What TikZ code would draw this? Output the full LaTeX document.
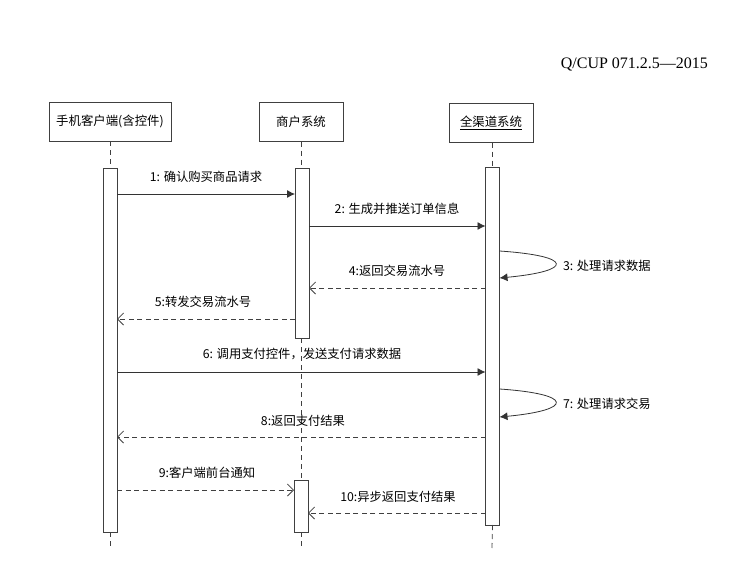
\documentclass[tikz,border=0pt]{standalone}
\usepackage{fontspec}
\setmainfont{Liberation Serif}
\newfontfamily\cjk{Noto Sans CJK SC}
\usetikzlibrary{arrows.meta}
\begin{document}
\begin{tikzpicture}[x=1pt,y=-1pt,
  every node/.style={inner sep=0pt,outer sep=0pt},
  actor/.style={draw=black!75,line width=0.8pt,minimum height=39pt,font=\cjk\fontsize{12.4}{14}\selectfont},
  bar/.style={draw=black!75,line width=0.8pt,fill=white,minimum width=14pt},
  life/.style={draw=black!75,line width=0.8pt,dash pattern=on 5pt off 4pt},
  call/.style={draw=black!80,line width=0.8pt,-{Latex[length=8pt,width=8pt]}},
  reply/.style={draw=black!75,line width=0.8pt,dash pattern=on 5pt off 3.5pt,-{Straight Barb[length=6pt,width=12pt]}},
  msg/.style={font=\cjk\fontsize{12.3}{14}\selectfont,anchor=base}
]
\useasboundingbox (0,0) rectangle (745,565);

% document reference
\node[anchor=base east,font=\fontsize{16}{18}\selectfont] (ref) at (708,68) {Q/CUP 071.2.5—2015};

% participants
\node[actor,minimum width=122pt] (p1) at (110,121.5) {手机客户端(含控件)};
\node[actor,minimum width=84pt] (p2) at (301,122) {商户系统};
\node[actor,minimum width=84pt] (p3) at (491,123) {\underline{全渠道系统}};

% activation bars
\node[bar,minimum height=364pt] (b1) at (110,350) {};
\node[bar,minimum height=170pt] (b2) at (302,253) {};
\node[bar,minimum height=358pt] (b3) at (492.5,346) {};
\node[bar,minimum height=52pt] (b4) at (301,506) {};

% lifelines
\coordinate (e1) at (110,548);
\coordinate (e2) at (301,548);
\coordinate (e3) at (492,548);
\draw[life] (p1.south) -- (b1.north);
\draw[life] (b1.south) -- (e1);
\draw[life] (p2.south) -- (b2.north -| p2.south);
\draw[life] (b2.south -| p2.south) -- (b4.north);
\draw[life] (b4.south) -- (e2);
\draw[life] (p3.south -| b3.north) -- (b3.north);
\draw[life] (b3.south) -- (e3);

% messages
\draw[call] (b1.east |- 0,194) -- (b2.west |- 0,194);
\node[msg] (l1) at (206,181) {1: 确认购买商品请求};

\draw[call] (b2.east |- 0,226) -- (b3.west |- 0,226);
\node[msg] (l2) at (397,213) {2: 生成并推送订单信息};

\coordinate (s3a) at (b3.east |- 0,251);
\coordinate (s3b) at (b3.east |- 0,278);
\draw[call] (s3a) .. controls (574,256) and (574,271) .. (s3b);
\node[msg,anchor=base west] (l3) at (563,270) {3: 处理请求数据};

\draw[reply] (b3.west |- 0,288) -- (b2.east |- 0,288);
\node[msg] (l4) at (397,275) {4:返回交易流水号};

\draw[reply] (b2.west |- 0,319) -- (b1.east |- 0,319);
\node[msg] (l5) at (203,306) {5:转发交易流水号};

\draw[call] (b1.east |- 0,372) -- (b3.west |- 0,372);
\node[msg] (l6) at (302,358) {6: 调用支付控件，发送支付请求数据};

\coordinate (s7a) at (b3.east |- 0,389);
\coordinate (s7b) at (b3.east |- 0,417);
\draw[call] (s7a) .. controls (574,394) and (574,410) .. (s7b);
\node[msg,anchor=base west] (l7) at (563,408) {7: 处理请求交易};

\draw[reply] (b3.west |- 0,437) -- (b1.east |- 0,437);
\node[msg] (l8) at (303,425) {8:返回支付结果};

\draw[reply] (b1.east |- 0,490) -- (b4.west |- 0,490);
\node[msg] (l9) at (207,477) {9:客户端前台通知};

\draw[reply] (b3.west |- 0,513) -- (b4.east |- 0,513);
\node[msg] (l10) at (398,501) {10:异步返回支付结果};
\end{tikzpicture}
\end{document}
